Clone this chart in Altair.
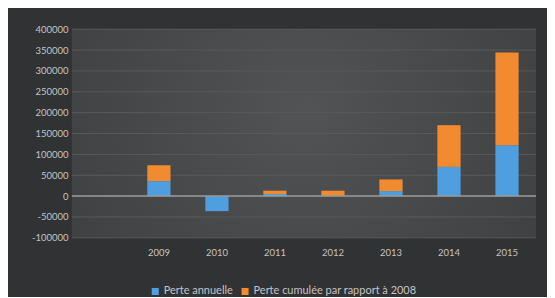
import altair as alt
import pandas as pd

years = ["2009", "2010", "2011", "2012", "2013", "2014", "2015"]
x_domain = ["2008"] + years
annual = [36000, -36000, 5000, 500, 12000, 70000, 122000]
cumul = [38000, 0, 8000, 12500, 28000, 100000, 222000]
series = ["Perte annuelle", "Perte cumulée par rapport à 2008"]
colors = ["#4f9fe0", "#f28a30"]
y_ticks = [-100000, -50000, 0, 50000, 100000, 150000, 200000, 250000, 300000, 350000, 400000]

rows = []
for i, y in enumerate(years):
    rows.append({"year": y, "series": series[0], "value": annual[i], "ord": 0})
    rows.append({"year": y, "series": series[1], "value": cumul[i], "ord": 1})
df = pd.DataFrame(rows)

FONT = "Lato"
LBL = "#c4c4c4"
W, H = 465, 209
yscale = alt.Scale(domain=[-100000, 400000], nice=False)
yaxis = alt.Axis(title=None, values=y_ticks, ticks=False, domain=False,
                 grid=False, labelOverlap=False,
                 labelExpr="'' + datum.value",
                 labelColor=LBL, labelFont=FONT, labelFontSize=9.5, labelPadding=4,
                 minExtent=64, maxExtent=64)

grad = alt.RadialGradient(
    gradient="radial",
    stops=[alt.GradientStop(color="#525355", offset=0),
           alt.GradientStop(color="#3a3b3d", offset=1)],
    x1=0.5, y1=0.45, r1=0, x2=0.5, y2=0.45, r2=0.75,
)

bg = alt.Chart(pd.DataFrame({"a": [0]})).mark_rect(color=grad).encode(
    x=alt.value(0), x2=alt.value(W), y=alt.value(0), y2=alt.value(H)
)

grid = alt.Chart(pd.DataFrame({"t": y_ticks})).mark_rule(color="#58595b", strokeWidth=1).encode(
    y=alt.Y("t:Q", scale=yscale, axis=yaxis)
)

bars = alt.Chart(df).mark_bar().encode(
    x=alt.X("year:N", scale=alt.Scale(domain=x_domain, paddingInner=0.6, paddingOuter=0.3),
            sort=x_domain,
            axis=alt.Axis(title=None, ticks=False, domain=False, labelAngle=0,
                          labelPadding=10, labelColor=LBL, labelFont=FONT, labelFontSize=9.5,
                          labelExpr="datum.value == '2008' ? '' : datum.value")),
    y=alt.Y("value:Q", stack="zero", scale=yscale, axis=yaxis),
    color=alt.Color("series:N", scale=alt.Scale(domain=series, range=colors),
                    legend=alt.Legend(title=None, orient="none", direction="horizontal",
                                      legendX=78, legendY=257, symbolType="square",
                                      symbolSize=50, symbolStrokeWidth=0, labelLimit=300,
                                      labelColor=LBL, labelFont=FONT, labelFontSize=11,
                                      columnPadding=6, symbolOffset=0, labelOffset=3)),
    order=alt.Order("ord:Q"),
)

zero = alt.Chart(pd.DataFrame({"z": [0]})).mark_rule(color="#9a9a9a", strokeWidth=1.5).encode(
    y=alt.Y("z:Q", scale=yscale, axis=yaxis)
)

chart = alt.layer(bg, grid, bars, zero).properties(
    width=W, height=H,
    padding={"left": 0, "top": 16, "right": 10, "bottom": 0},
    background="#313234",
).configure_view(stroke=None)

chart.save("out.html", embed_options={"renderer": "svg", "actions": False})
